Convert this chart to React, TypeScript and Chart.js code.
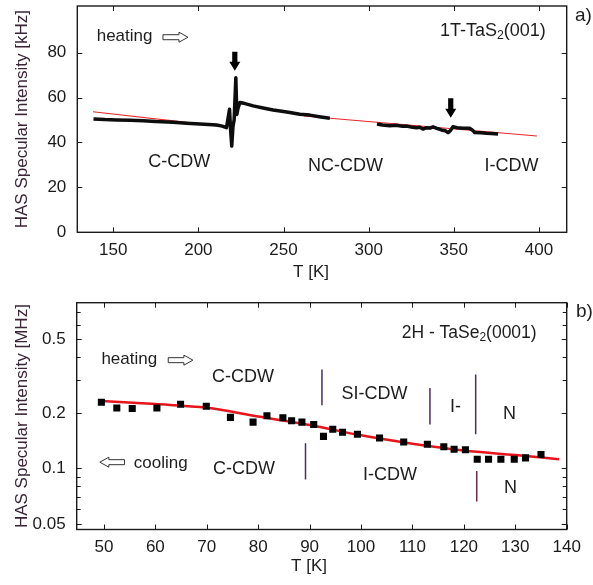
import React, { useEffect, useRef } from "react";
import { Chart, registerables } from "chart.js";

Chart.register(...registerables);

const FONT = "'Liberation Sans', Arial, Helvetica, sans-serif";

// ---------- Panel a: 1T-TaS2(001) ----------
const tasTempTicks = [150, 200, 250, 300, 350, 400];
const tasIntensityTicks = [0, 20, 40, 60, 80];
const tasLowTemp = [138.4, 145, 152, 160, 167.6, 175, 185.2, 193, 200.9, 206, 210.7, 214, 216.5, 218.3, 218.9, 219.6, 220.3, 221, 222, 222.6, 223.2, 224.4, 226, 228, 232.2, 238, 243.9, 250, 253.7, 259.6, 265.4, 271, 277.2];
const tasLowIntensity = [50.5, 50.2, 50.0, 49.9, 49.7, 49.3, 49.0, 48.6, 48.2, 48.0, 47.8, 47.3, 46.6, 54.8, 46.0, 38.4, 47.0, 50.0, 68.8, 52.5, 55.0, 57.8, 57.6, 57.2, 56.3, 55.4, 54.5, 53.8, 53.4, 52.6, 52.2, 51.5, 50.8];
const tasHighTemp = [304.9, 308, 312.4, 316, 320, 322.2, 325, 328, 330, 331.9, 334, 336, 337.8, 340, 342.7, 345, 346.6, 348, 349.5, 352, 355.4, 359.3, 361, 362.3, 366, 369.1, 372, 376];
const tasHighIntensity = [48.2, 47.8, 47.5, 47.7, 47.2, 47.3, 46.9, 46.6, 46.8, 46.0, 46.6, 46.4, 47.0, 46.3, 45.6, 45.2, 44.4, 45.3, 47.0, 46.6, 46.3, 46.3, 45.5, 44.4, 44.3, 44.1, 44.0, 43.8];
const tasFitLowTemp = [138.1, 216.5];
const tasFitLowIntensity = [53.7, 47.0];
const tasFitHighTemp = [262, 398.8];
const tasFitHighIntensity = [51.8, 42.9];
const tasTransitionTemp = [221.4, 348.2];

// ---------- Panel b: 2H-TaSe2(0001) ----------
const seTempTicks = [50, 60, 70, 80, 90, 100, 110, 120, 130, 140];
const seIntensityTicks = [0.05, 0.1, 0.2, 0.5];
const seIntensityTickLabels = ["0.05", "0.1", "0.2", "0.5"];
const seMinorTicks = [0.06, 0.07, 0.08, 0.09, 0.3, 0.4, 0.6, 0.7];
const seTemp = [49.5, 52.5, 55.5, 60.3, 64.9, 69.9, 74.6, 79.0, 81.7, 84.8, 86.5, 88.5, 90.8, 92.7, 94.5, 96.4, 99.3, 103.6, 108.3, 112.9, 116.1, 118.1, 120.3, 122.6, 124.8, 127.2, 129.8, 132.0, 135.0];
const seIntensity = [0.228, 0.2125, 0.211, 0.2125, 0.2225, 0.217, 0.189, 0.178, 0.193, 0.188, 0.181, 0.178, 0.173, 0.149, 0.163, 0.157, 0.153, 0.146, 0.139, 0.135, 0.131, 0.127, 0.126, 0.112, 0.112, 0.112, 0.112, 0.114, 0.119];
const seFitTemp = [49.5, 60, 70, 80, 90, 100, 110, 120, 130, 138.5];
const seFitIntensity = [0.232, 0.223, 0.213, 0.191, 0.172, 0.151, 0.136, 0.125, 0.118, 0.112];
const sePhaseTemp = [92.4, 89.2, 113.4, 122.3, 122.5];
const sePhaseLow = [0.22, 0.087, 0.173, 0.153, 0.066];
const sePhaseHigh = [0.343, 0.137, 0.273, 0.323, 0.0966];
const sePhaseColor = ["#4a2c62", "#4a2c62", "#4a2c62", "#4a2c62", "#6a2a45"];

const pts = (xs: number[], ys: number[]) => xs.map((x, i) => ({ x, y: ys[i] }));

function drawText(ctx: CanvasRenderingContext2D, item: any, px: number, py: number) {
  const parts = item.parts ?? [{ t: item.text }];
  const size = item.size ?? 17;
  let total = 0;
  for (const p of parts) {
    ctx.font = `${p.sub ? size * 0.68 : size}px ${FONT}`;
    total += ctx.measureText(p.t).width;
  }
  let x = px;
  if (item.align === "center") x -= total / 2;
  ctx.fillStyle = item.color ?? "#1d1d1d";
  ctx.textBaseline = "middle";
  ctx.textAlign = "left";
  for (const p of parts) {
    ctx.font = `${p.sub ? size * 0.68 : size}px ${FONT}`;
    ctx.fillText(p.t, x, py + (p.sub ? size * 0.3 : 0));
    x += ctx.measureText(p.t).width;
  }
}

const decorPlugin = {
  id: "decor",
  afterDraw(chart: any, _args: any, opts: any) {
    const ctx: CanvasRenderingContext2D = chart.ctx;
    const { left, right, top, bottom } = chart.chartArea;
    const xs = chart.scales.x;
    const ys = chart.scales.y;
    ctx.save();
    ctx.strokeStyle = "#1a1a1a";
    ctx.lineWidth = 1.4;
    ctx.strokeRect(left, top, right - left, bottom - top);
    ctx.lineWidth = 1;
    const seg = (x0: number, y0: number, x1: number, y1: number) => {
      ctx.beginPath();
      ctx.moveTo(x0, y0);
      ctx.lineTo(x1, y1);
      ctx.stroke();
    };
    for (const v of opts.xTicks) {
      const px = Math.round(xs.getPixelForValue(v)) + 0.5;
      seg(px, bottom, px, bottom - 5);
      seg(px, top, px, top + 5);
    }
    for (const v of opts.yTicks) {
      const py = Math.round(ys.getPixelForValue(v)) + 0.5;
      if (py <= top + 1 || py >= bottom - 1) continue;
      seg(left, py, left + 5, py);
      seg(right, py, right - 5, py);
    }
    for (const v of opts.yMinor ?? []) {
      const py = Math.round(ys.getPixelForValue(v)) + 0.5;
      seg(left, py, left + 4, py);
      seg(right, py, right - 4, py);
    }
    for (const t of opts.texts) {
      const px = t.px ? t.x : xs.getPixelForValue(t.x);
      const py = t.px ? t.y : ys.getPixelForValue(t.y);
      drawText(ctx, t, px, py);
    }
    ctx.strokeStyle = "#333";
    ctx.fillStyle = "#fff";
    ctx.lineWidth = 1;
    for (const a of opts.hollowArrows ?? []) {
      const x0 = xs.getPixelForValue(a.from);
      const x1 = xs.getPixelForValue(a.to);
      const y = ys.getPixelForValue(a.y);
      const d = Math.sign(x1 - x0);
      const hx = x1 - d * 9;
      ctx.beginPath();
      ctx.moveTo(x0, y - 2.5);
      ctx.lineTo(hx, y - 2.5);
      ctx.lineTo(hx, y - 5);
      ctx.lineTo(x1, y);
      ctx.lineTo(hx, y + 5);
      ctx.lineTo(hx, y + 2.5);
      ctx.lineTo(x0, y + 2.5);
      ctx.closePath();
      ctx.fill();
      ctx.stroke();
    }
    ctx.fillStyle = "#000";
    for (const a of opts.downArrows ?? []) {
      const x = xs.getPixelForValue(a.x);
      const y0 = ys.getPixelForValue(a.top);
      const y1 = ys.getPixelForValue(a.tip);
      const hy = y1 - 9;
      ctx.beginPath();
      ctx.moveTo(x - 2.6, y0);
      ctx.lineTo(x + 2.6, y0);
      ctx.lineTo(x + 2.6, hy);
      ctx.lineTo(x + 5.5, hy);
      ctx.lineTo(x, y1);
      ctx.lineTo(x - 5.5, hy);
      ctx.lineTo(x - 2.6, hy);
      ctx.closePath();
      ctx.fill();
    }
    ctx.restore();
  },
};

const tickFont = { family: FONT, size: 17 };
const titleFont = { family: FONT, size: 17 };

const fitX = (h: number) => (s: any) => {
  s.height = h;
  s.paddingLeft = 0;
  s.paddingRight = 0;
  s.paddingTop = 0;
  s.paddingBottom = 0;
};
const fitY = (w: number) => (s: any) => {
  s.width = w;
  s.paddingLeft = 0;
  s.paddingRight = 0;
  s.paddingTop = 0;
  s.paddingBottom = 0;
};

function configA(): any {
  return {
    type: "line",
    data: {
      datasets: [
        { data: pts(tasLowTemp, tasLowIntensity), borderColor: "#0d0d0d", borderWidth: 3.5, pointRadius: 0, borderJoinStyle: "round", tension: 0 },
        { data: pts(tasHighTemp, tasHighIntensity), borderColor: "#0d0d0d", borderWidth: 3.5, pointRadius: 0, borderJoinStyle: "round", tension: 0 },
        { data: pts(tasFitLowTemp, tasFitLowIntensity), borderColor: "#e8262a", borderWidth: 1.2, pointRadius: 0 },
        { data: pts(tasFitHighTemp, tasFitHighIntensity), borderColor: "#e8262a", borderWidth: 1.2, pointRadius: 0 },
      ],
    },
    plugins: [decorPlugin],
    options: {
      responsive: false,
      animation: false,
      layout: { padding: { left: 0, top: 6, right: 26.3, bottom: 0 } },
      plugins: {
        legend: { display: false },
        tooltip: { enabled: false },
        decor: {
          xTicks: tasTempTicks,
          yTicks: tasIntensityTicks,
          texts: [
            { text: "heating", x: 140.3, y: 87.4, size: 17 },
            { parts: [{ t: "1T-TaS" }, { t: "2", sub: true }, { t: "(001)" }], x: 341.9, y: 89.8, size: 18 },
            { text: "C-CDW", x: 170.5, y: 31.4, size: 18 },
            { text: "NC-CDW", x: 264.4, y: 29.6, size: 18 },
            { text: "I-CDW", x: 368.1, y: 29.6, size: 18 },
            { text: "a)", px: true, x: 575, y: 15.5, size: 19 },
            { text: "T [K]", px: true, x: 311, y: 272, size: 17, align: "center" },
          ],
          hollowArrows: [{ from: 179.2, to: 193.9, y: 86.9 }],
          downArrows: [
            { x: tasTransitionTemp[0], top: 80.4, tip: 72.0 },
            { x: tasTransitionTemp[1], top: 59.7, tip: 51.0 },
          ],
        },
      },
      scales: {
        x: {
          type: "linear",
          min: 128.9,
          max: 416.3,
          afterBuildTicks: (s: any) => { s.ticks = tasTempTicks.map((v) => ({ value: v })); },
          afterFit: fitX(57.7),
          ticks: { font: tickFont, color: "#1a1a1a", padding: 8, autoSkip: false, maxRotation: 0 },
          grid: { display: false, drawTicks: false },
          border: { display: false },
        },
        y: {
          type: "linear",
          min: 0,
          max: 100.8,
          afterBuildTicks: (s: any) => { s.ticks = tasIntensityTicks.map((v) => ({ value: v })); },
          afterFit: fitY(77.3),
          ticks: { font: tickFont, color: "#1a1a1a", padding: 11 },
          grid: { display: false, drawTicks: false },
          border: { display: false },
          title: { display: true, text: "HAS Specular Intensity [kHz]", font: titleFont, color: "#3a2436", padding: { top: 12, bottom: 0 } },
        },
      },
    },
  };
}

function configB(): any {
  const phaseSets = sePhaseTemp.map((t, i) => ({
    data: [{ x: t, y: sePhaseLow[i] }, { x: t, y: sePhaseHigh[i] }],
    borderColor: sePhaseColor[i],
    borderWidth: 1.5,
    pointRadius: 0,
  }));
  return {
    type: "line",
    data: {
      datasets: [
        { data: pts(seTemp, seIntensity), showLine: false, pointStyle: "rect", pointRadius: 5, pointBackgroundColor: "#000", pointBorderWidth: 0, borderColor: "#000" },
        { data: pts(seFitTemp, seFitIntensity), borderColor: "#e8141c", borderWidth: 2.5, pointRadius: 0, cubicInterpolationMode: "monotone" },
        ...phaseSets,
      ],
    },
    plugins: [decorPlugin],
    options: {
      responsive: false,
      animation: false,
      layout: { padding: { left: 0, top: 12.7, right: 26.3, bottom: 0 } },
      plugins: {
        legend: { display: false },
        tooltip: { enabled: false },
        decor: {
          xTicks: seTempTicks,
          yTicks: seIntensityTicks,
          yMinor: seMinorTicks,
          texts: [
            { text: "heating", x: 49.5, y: 0.39, size: 17 },
            { text: "C-CDW", x: 71.0, y: 0.313, size: 18 },
            { text: "cooling", x: 55.8, y: 0.107, size: 17 },
            { text: "C-CDW", x: 71.2, y: 0.0995, size: 18 },
            { text: "SI-CDW", x: 96.2, y: 0.254, size: 18 },
            { text: "I-", x: 117.3, y: 0.215, size: 18 },
            { text: "N", x: 127.6, y: 0.196, size: 18 },
            { text: "I-CDW", x: 100.4, y: 0.0924, size: 18 },
            { text: "N", x: 127.8, y: 0.078, size: 18 },
            { parts: [{ t: "2H - TaSe" }, { t: "2", sub: true }, { t: "(0001)" }], x: 107.9, y: 0.543, size: 17.5 },
            { text: "b)", px: true, x: 576, y: 21.7, size: 19 },
            { text: "T [K]", px: true, x: 309, y: 276.7, size: 17, align: "center" },
          ],
          hollowArrows: [
            { from: 62.5, to: 67.3, y: 0.386 },
            { from: 54.0, to: 49.2, y: 0.108 },
          ],
        },
      },
      scales: {
        x: {
          type: "linear",
          min: 44.7,
          max: 140,
          afterBuildTicks: (s: any) => { s.ticks = seTempTicks.map((v) => ({ value: v })); },
          afterFit: fitX(55.5),
          ticks: { font: tickFont, color: "#1a1a1a", padding: 8, autoSkip: false, maxRotation: 0 },
          grid: { display: false, drawTicks: false },
          border: { display: false },
        },
        y: {
          type: "logarithmic",
          min: 0.0466,
          max: 0.791,
          afterBuildTicks: (s: any) => { s.ticks = seIntensityTicks.map((v) => ({ value: v })); },
          afterFit: fitY(76.7),
          ticks: {
            font: tickFont,
            color: "#1a1a1a",
            padding: 11,
            callback: (v: number) => {
              const i = seIntensityTicks.findIndex((t) => Math.abs(t - v) < 1e-9);
              return i >= 0 ? seIntensityTickLabels[i] : "";
            },
          },
          grid: { display: false, drawTicks: false },
          border: { display: false },
          title: { display: true, text: "HAS Specular Intensity [MHz]", font: titleFont, color: "#3a2436", padding: { top: 12, bottom: 0 } },
        },
      },
    },
  };
}

function ChartCanvas({ width, height, top, makeConfig }: { width: number; height: number; top: number; makeConfig: () => any }) {
  const ref = useRef<HTMLCanvasElement>(null);
  useEffect(() => {
    const chart = new Chart(ref.current as HTMLCanvasElement, makeConfig());
    return () => chart.destroy();
  }, []);
  return (
    <canvas
      ref={ref}
      width={width}
      height={height}
      style={{ position: "absolute", left: 0, top, width, height, display: "block" }}
    />
  );
}

export default function App() {
  return (
    <div style={{ position: "absolute", left: 0, top: 0, width: 593, height: 585, background: "#fff", overflow: "hidden" }}>
      <ChartCanvas width={593} height={290} top={0} makeConfig={configA} />
      <ChartCanvas width={593} height={295} top={290} makeConfig={configB} />
    </div>
  );
}
